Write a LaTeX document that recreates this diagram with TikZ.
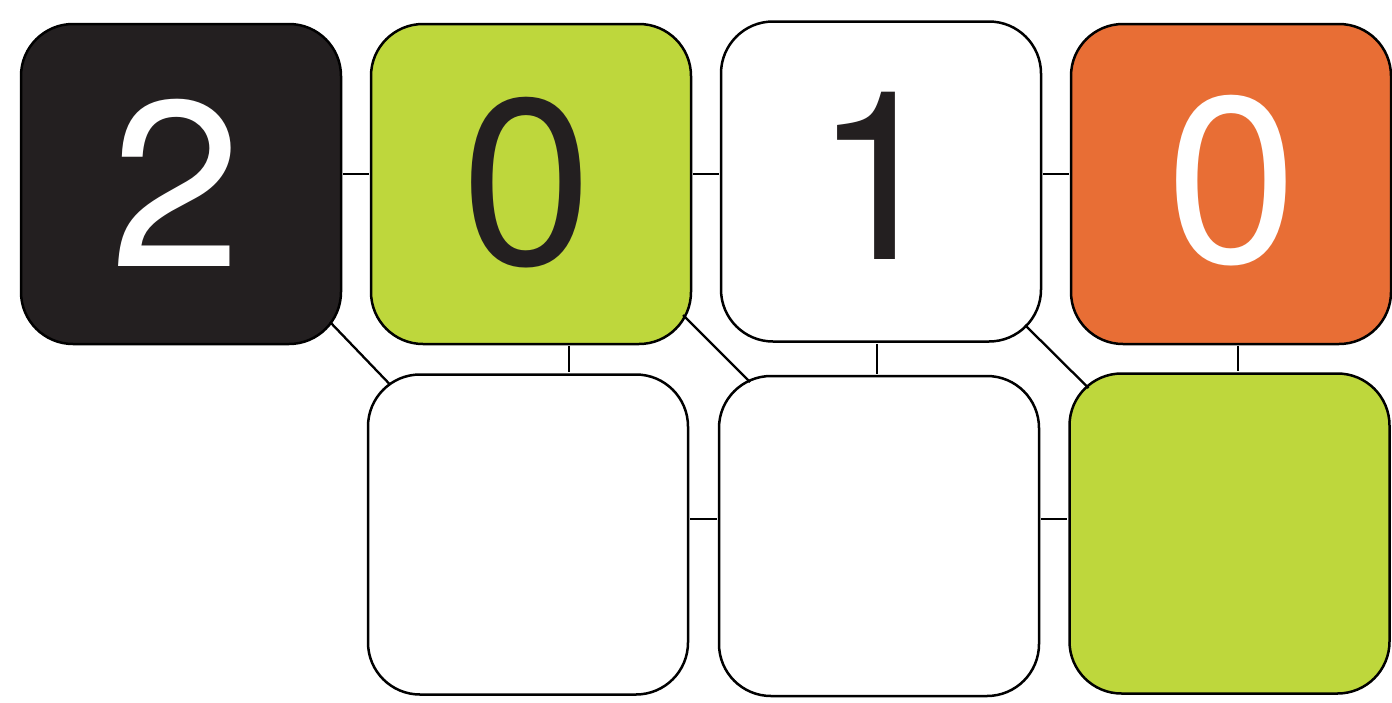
\documentclass[tikz,border=0pt]{standalone}
\usepackage{fontspec}
\setmainfont{TeX Gyre Heros}
\usetikzlibrary{calc}
\definecolor{boxblack}{HTML}{231F20}
\definecolor{boxgreen}{HTML}{BED73C}
\definecolor{boxorange}{HTML}{E86E35}
\tikzset{
  tile/.style={draw=black, line width=2.5pt, rectangle, rounded corners=52pt,
    minimum width=320pt, minimum height=320pt, inner sep=0pt},
  digit/.style={font=\fontsize{236}{236}\selectfont, inner sep=0pt},
  link/.style={draw=black, line width=2.3pt}
}
\begin{document}
\begin{tikzpicture}[x=1pt,y=-1pt]
\useasboundingbox (0,0) rectangle (1392,702);
% tiles
\node[tile, fill=boxblack] (b1) at (181,184) {};
\node[tile, fill=boxgreen] (b2) at (531,184) {};
\node[tile, fill=white] (b3) at (881,181.5) {};
\node[tile, fill=boxorange] (b4) at (1231,184) {};
\node[tile, fill=white] (b5) at (528,534.5) {};
\node[tile, fill=white] (b6) at (879,536) {};
\node[tile, fill=boxgreen] (b7) at (1229.5,533.5) {};
% digits
\node[digit, text=white] (d1) at ($(b1.center)+(-5,-1.5)$) {2};
\node[digit, text=boxblack] (d2) at ($(b2.center)+(-4,-1.5)$) {0};
\node[digit, text=boxblack] (d3) at ($(b3.center)+(-2,-5.5)$) {1};
\node[digit, text=white] (d4) at ($(b4.center)+(1,-3.5)$) {0};
% horizontal / vertical links
\draw[link] ($(b1.east)+(1,-10)$) -- ($(b2.west)+(-1,-10)$);
\draw[link] ($(b2.east)+(1,-10)$) -- ($(b3.west)+(-1,-7.5)$);
\draw[link] ($(b3.east)+(1,-7.5)$) -- ($(b4.west)+(-1,-10)$);
\draw[link] ($(b2.south)+(38,1)$) -- ($(b5.north)+(41,-1)$);
\draw[link] ($(b3.south)+(-4,1)$) -- ($(b6.north)+(-2,-1)$);
\draw[link] ($(b4.south)+(7,1)$) -- ($(b7.north)+(8.5,-1)$);
\draw[link] ($(b5.east)+(1,-15.5)$) -- ($(b6.west)+(-1,-17)$);
\draw[link] ($(b6.east)+(1,-17)$) -- ($(b7.west)+(-1,-14.5)$);
% diagonals, between rounded corners
\draw[link] ($(b1.center)+(149,138)$) -- ($(b5.center)+(-138,-150)$);
\draw[link] ($(b2.center)+(152,131)$) -- ($(b6.center)+(-129,-154)$);
\draw[link] ($(b3.center)+(144,143.5)$) -- ($(b7.center)+(-141,-145.5)$);
\end{tikzpicture}
\end{document}
